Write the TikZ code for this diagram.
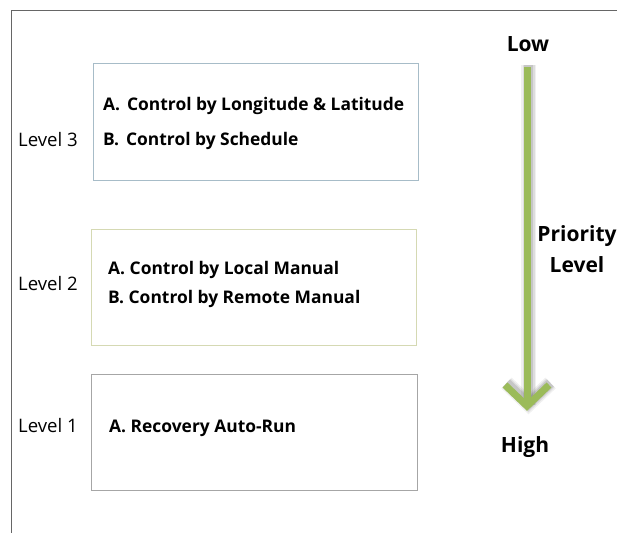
\documentclass[tikz,border=0pt]{standalone}
\usepackage{fontspec}
\setmainfont{Open Sans}
\begin{document}
\begin{tikzpicture}[x=1bp,y=-1bp,
  lvlbox/.style={draw, line width=0.8bp, anchor=north west, inner sep=0pt},
  itemtxt/.style={anchor=west, inner sep=0pt, font=\fontsize{17.4bp}{20bp}\selectfont\bfseries},
  lvltxt/.style={anchor=west, inner sep=0pt, font=\fontsize{18.6bp}{22bp}\selectfont},
  prio/.style={inner sep=0pt, font=\fontsize{21bp}{31bp}\selectfont\bfseries, align=center},
  shaft/.style={line width=7bp, draw=arrowgreen, line cap=butt, line join=miter}
]
\definecolor{arrowgreen}{HTML}{9BBB59}
\definecolor{box3c}{HTML}{A7BCC8}
\definecolor{box2c}{HTML}{D5D9B3}
\definecolor{box1c}{HTML}{A6A6A6}
\useasboundingbox (0,0) rectangle (617,533);
% frame
\draw[line width=1bp, draw=black!60] (11,533) -- (11,11) -- (617,11);
% boxes
\node[lvlbox, draw=box3c, minimum width=325bp, minimum height=117bp] (b3) at (93,63) {};
\node[lvlbox, draw=box2c, minimum width=325bp, minimum height=116bp] (b2) at (91,229) {};
\node[lvlbox, draw=box1c, minimum width=326bp, minimum height=116bp] (b1) at (91,374) {};
% box texts
\node[itemtxt] (t3a) at (103,106) {A.\hspace{0.4em}Control by Longitude \& Latitude};
\node[itemtxt] (t3b) at (103,141) {B.\hspace{0.4em}Control by Schedule};
\node[itemtxt] (t2a) at (108,270) {A. Control by Local Manual};
\node[itemtxt] (t2b) at (108,299) {B. Control by Remote Manual};
\node[itemtxt] (t1a) at (109,428) {A. Recovery Auto-Run};
% level labels
\node[lvltxt] (l3) at (18,140) {Level 3};
\node[lvltxt] (l2) at (18,284) {Level 2};
\node[lvltxt] (l1) at (18,426) {Level 1};
% priority labels
\node[prio] (low) at (528,44) {Low};
\node[prio] (high) at (525,447) {High};
\node[prio] (pl) at (577,249) {Priority\\Level};
% arrow
\coordinate (as) at (527,67);
\coordinate (ae) at (527,406);
\coordinate (al) at (505,385);
\coordinate (ar) at (549,385);
% shadow
\foreach \w/\o in {15/0.06,12/0.08,9.5/0.10}{
  \draw[line width=\w bp, draw=black, opacity=\o, line join=miter] ([xshift=1.5bp,yshift=1.5bp]as) -- ([xshift=1.5bp,yshift=1.5bp]ae);
  \draw[line width=\w bp, draw=black, opacity=\o, line join=miter] ([xshift=1.5bp,yshift=2bp]al) -- ([xshift=1.5bp,yshift=2bp]ae) -- ([xshift=1.5bp,yshift=2bp]ar);
}
\draw[shaft] (as) -- (ae);
\draw[shaft] (al) -- (ae) -- (ar);
\end{tikzpicture}
\end{document}
